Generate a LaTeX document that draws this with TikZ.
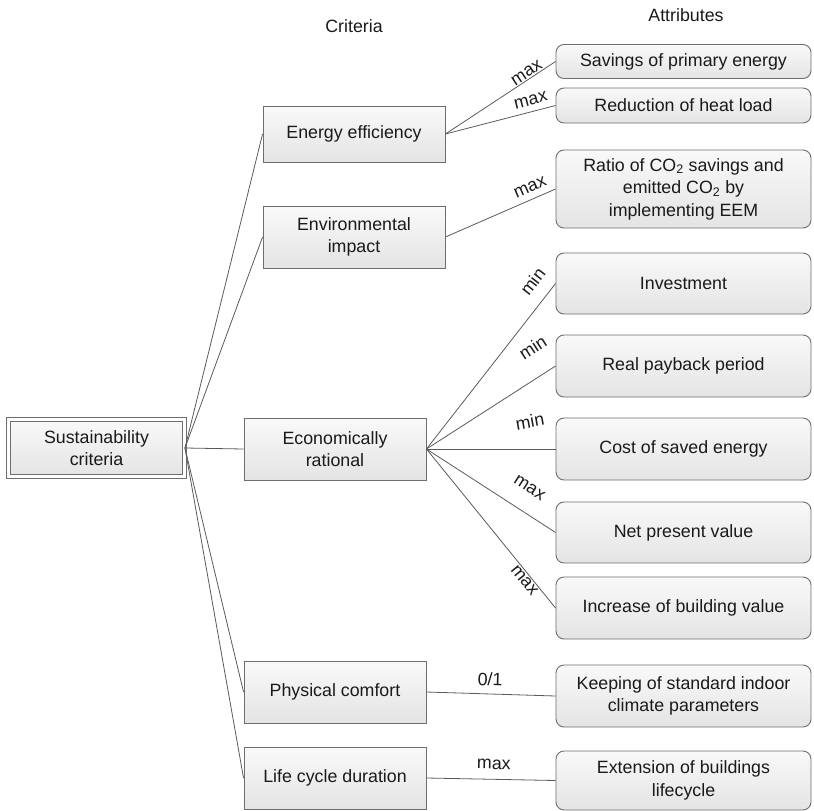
\documentclass[tikz,border=0pt]{standalone}
\usepackage{fontspec}
\setmainfont{Liberation Sans}
\definecolor{bord}{HTML}{6E6E6E}
\definecolor{lin}{HTML}{5A5A5A}
\definecolor{txt}{HTML}{1A1A1A}
\definecolor{boxtop}{HTML}{F9F9F9}
\definecolor{boxbot}{HTML}{E4E4E4}
\begin{document}
\begin{tikzpicture}[x=1pt,y=-1pt,
  every node/.style={font=\fontsize{17.8}{22.5}\selectfont, text=txt},
  critbox/.style={draw=bord, line width=0.9pt, top color=boxtop, bottom color=boxbot,
    minimum width=182pt, minimum height=62pt, align=center, inner sep=0pt},
  attrbox/.style={critbox, rounded corners=8pt, minimum width=255pt},
  rootbox/.style={critbox, minimum width=176pt, minimum height=57pt,
    double=white, double distance=3pt},
  conn/.style={draw=lin, line width=0.8pt},
  lbl/.style={inner sep=0pt, sloped, font=\fontsize{17.8}{20}\selectfont}]
\useasboundingbox (0,0) rectangle (814,811);

% titles
\node (tcrit) at (354,26) {Criteria};
\node (tattr) at (686,15) {Attributes};

% root
\node[rootbox] (root) at (96.5,448) {Sustainability\\criteria};

% criteria
\node[critbox, minimum height=56pt] (ee) at (354,134) {Energy efficiency};
\node[critbox] (ei) at (354,237) {Environmental\\impact};
\node[critbox] (er) at (335,449) {Economically\\rational};
\node[critbox] (pc) at (335,692) {Physical comfort};
\node[critbox] (lc) at (335,778) {Life cycle duration};

% attributes
\node[attrbox, minimum height=34pt] (a1) at (683.5,61.5) {Savings of primary energy};
\node[attrbox, minimum height=35pt] (a2) at (683.5,105.5) {Reduction of heat load};
\node[attrbox, minimum height=78pt] (a3) at (683.5,189)
  {Ratio of CO\textsubscript{2} savings and\\emitted CO\textsubscript{2} by\\implementing EEM};
\node[attrbox, minimum height=61pt] (a4) at (683.5,283.5) {Investment};
\node[attrbox] (a5) at (683.5,366) {Real payback period};
\node[attrbox] (a6) at (683.5,449) {Cost of saved energy};
\node[attrbox, minimum height=61pt] (a7) at (683.5,532.5) {Net present value};
\node[attrbox] (a8) at (683.5,608) {Increase of building value};
\node[attrbox] (a9) at (683.5,696) {Keeping of standard indoor\\climate parameters};
\node[attrbox, minimum height=59pt] (a10) at (683.5,780.5) {Extension of buildings\\lifecycle};

% root connectors
\draw[conn] (root.east) -- (ee.west);
\draw[conn] (root.east) -- (ei.west);
\draw[conn] (root.east) -- (er.west);
\draw[conn] (root.east) -- (pc.west);
\draw[conn] (root.east) -- (lc.west);

% criteria -> attributes
\draw[conn] (ee.east) -- node[lbl, pos=0.77, above=1pt] (l1) {max} (a1.west);
\draw[conn] (ee.east) -- node[lbl, pos=0.80, above=6pt] (l2) {max} (a2.west);
\draw[conn] (ei.east) -- node[lbl, pos=0.81, above=6pt] (l3) {max} (a3.west);
\draw[conn] (er.east) -- node[lbl, pos=0.94, above=12.5pt] (l4) {min} (a4.west);
\draw[conn] (er.east) -- node[lbl, pos=0.94, above=21pt] (l5) {min} (a5.west);
\draw[conn] (er.east) -- node[lbl, pos=0.81, above=21pt, rotate=10] (l6) {min} (a6.west);
\draw[conn] (er.east) -- node[lbl, pos=0.70, above=18pt] (l7) {max} (a7.west);
\draw[conn] (er.east) -- node[lbl, pos=0.80, below=1.5pt] (l8) {max} (a8.west);
\draw[conn] (pc.east) -- node[lbl, pos=0.49, above=7.5pt] (l9) {0/1} (a9.west);
\draw[conn] (lc.east) -- node[lbl, pos=0.52, above=9.5pt] (l10) {max} (a10.west);
\end{tikzpicture}
\end{document}
